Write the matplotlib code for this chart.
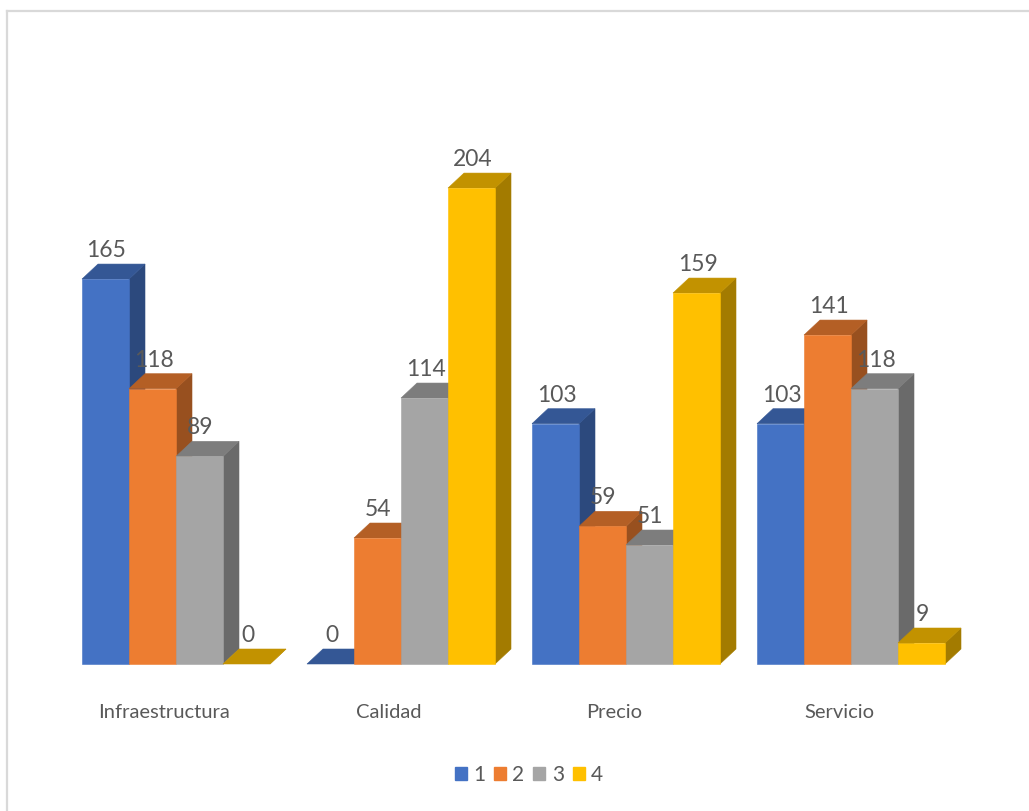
import numpy as np
import matplotlib
matplotlib.use('Agg')
import matplotlib.pyplot as plt
from matplotlib.patches import Polygon, Patch
from matplotlib.lines import Line2D


# data
CATEGORIES = ['Infraestructura', 'Calidad', 'Precio', 'Servicio']
SERIES = ['1', '2', '3', '4']
S1 = [165, 0, 103, 103]
S2 = [118, 54, 59, 141]
S3 = [89, 114, 51, 118]
S4 = [0, 204, 159, 9]

# style / layout constants (pixel units on x, value units on y)
FIG_W, FIG_H = 1029, 811
BASE_PX = 664            # baseline, px from top
PX_PER_UNIT = 2.333
FIRST_BAR = 82
GROUP_STEP = 225
BAR_W = 47
DEPTH_X = 16
DEPTH_Y = 15 / PX_PER_UNIT
COLORS = ['#4472C4', '#ED7D31', '#A5A5A5', '#FFC000']
TEXT_COLOR = '#595959'
FONT = ['Lato', 'DejaVu Sans']


def shade(hex_color, factor):
    rgb = np.array(matplotlib.colors.to_rgb(hex_color))
    return tuple(rgb * factor)


def draw_bar(ax, x, h, color):
    top_c = shade(color, 0.76)
    side_c = shade(color, 0.64)
    # side face
    side = Polygon([(x + BAR_W, 0), (x + BAR_W + DEPTH_X, DEPTH_Y),
                    (x + BAR_W + DEPTH_X, h + DEPTH_Y), (x + BAR_W, h)],
                   closed=True, facecolor=side_c, edgecolor=side_c, lw=0.4)
    ax.add_patch(side)
    # top face
    top = Polygon([(x, h), (x + DEPTH_X, h + DEPTH_Y),
                   (x + BAR_W + DEPTH_X, h + DEPTH_Y), (x + BAR_W, h)],
                  closed=True, facecolor=top_c, edgecolor=top_c, lw=0.4)
    ax.add_patch(top)
    # front face
    if h > 0:
        ax.bar(x, h, width=BAR_W, align='edge', color=color,
               edgecolor=color, lw=0.4)


def main():
    fig = plt.figure(figsize=(FIG_W / 100, FIG_H / 100), dpi=100)
    ax = fig.add_axes([0, 0, 1, 1])
    ax.set_xlim(0, FIG_W)
    ax.set_ylim(-(FIG_H - BASE_PX) / PX_PER_UNIT, BASE_PX / PX_PER_UNIT)
    ax.axis('off')

    all_series = [S1, S2, S3, S4]
    px = 1 / PX_PER_UNIT

    for g, cat in enumerate(CATEGORIES):
        gx = FIRST_BAR + g * GROUP_STEP
        for s, vals in enumerate(all_series):
            x = gx + s * BAR_W
            h = vals[g]
            draw_bar(ax, x, h, COLORS[s])
            ax.text(x + BAR_W / 2 + 1, h + DEPTH_Y + 3 * px, str(h),
                    ha='center', va='bottom', fontsize=16.5,
                    color=TEXT_COLOR, family=FONT)
        # category label
        ax.text(gx + 2 * BAR_W - 12, -48 * px, cat, ha='center',
                va='center', fontsize=14.5, color=TEXT_COLOR, family=FONT)

    # legend
    handles = [Patch(facecolor=c, edgecolor=c) for c in COLORS]
    leg = fig.legend(handles, SERIES, loc='center', ncol=4,
                     bbox_to_anchor=(0.514, 1 - 775 / FIG_H), frameon=False,
                     handlelength=0.58, handleheight=0.62, handletextpad=0.3,
                     columnspacing=0.43, prop={'family': FONT, 'size': 15})
    for t in leg.get_texts():
        t.set_color(TEXT_COLOR)

    # chart border (left and top only visible)
    bx = 7 / FIG_W
    by = 1 - 11 / FIG_H
    fig.add_artist(Line2D([bx, bx], [0, by], color='#D9D9D9', lw=1.6))
    fig.add_artist(Line2D([bx, 1], [by, by], color='#D9D9D9', lw=1.6))

    fig.savefig('out.png', dpi=100, facecolor='white')


if __name__ == "__main__":
    main()
